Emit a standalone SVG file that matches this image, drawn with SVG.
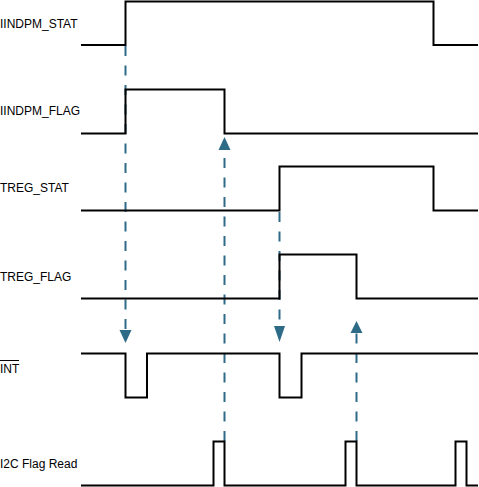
<svg xmlns="http://www.w3.org/2000/svg" width="479" height="487" viewBox="0 0 479 487">
<style>
.sig{fill:none;stroke:#000;stroke-width:2;stroke-linejoin:miter}
.dash{fill:none;stroke:#2e6b87;stroke-width:2;stroke-dasharray:10 9.5}
.lbl{font-family:"Liberation Sans",Arial,sans-serif;font-size:12px;fill:#000}
.ah{fill:#2e6b87}
</style>
<rect width="479" height="487" fill="#fff"/>
<g id="connectors">
<line class="dash" x1="125.5" y1="46" x2="125.5" y2="331"/>
<polygon class="ah" points="119.5,330 131.5,330 125.5,343"/>
<line class="dash" x1="224.5" y1="441" x2="224.5" y2="150"/>
<polygon class="ah" points="218.5,150 230.5,150 224.5,137"/>
<line class="dash" x1="279.5" y1="212" x2="279.5" y2="327"/>
<polygon class="ah" points="274,326 285,326 279.5,342"/>
<line class="dash" x1="356.5" y1="441" x2="356.5" y2="333"/>
<polygon class="ah" points="350.5,333 362.5,333 356.5,321"/>
</g>
<g id="iindpm_stat">
<text class="lbl" x="0" y="28">IINDPM_STAT</text>
<polyline class="sig" points="81,45 125.5,45 125.5,1.5 433.5,1.5 433.5,45 478,45"/>
</g>
<g id="iindpm_flag">
<text class="lbl" x="0" y="115">IINDPM_FLAG</text>
<polyline class="sig" points="81,133.5 125.5,133.5 125.5,89.5 224.5,89.5 224.5,133.5 478,133.5"/>
</g>
<g id="treg_stat">
<text class="lbl" x="0" y="192">TREG_STAT</text>
<polyline class="sig" points="81,210.5 279.5,210.5 279.5,166.5 433.5,166.5 433.5,210.5 478,210.5"/>
</g>
<g id="treg_flag">
<text class="lbl" x="0" y="280.5">TREG_FLAG</text>
<polyline class="sig" points="81,298.5 279.5,298.5 279.5,254.5 356.5,254.5 356.5,298.5 478,298.5"/>
</g>
<g id="int">
<text class="lbl" x="0" y="373">INT</text>
<line x1="0" y1="360.5" x2="19" y2="360.5" stroke="#000" stroke-width="1"/>
<polyline class="sig" points="81,353.5 125.5,353.5 125.5,397.5 147,397.5 147,353.5 279.5,353.5 279.5,397.5 301.5,397.5 301.5,353.5 478,353.5"/>
</g>
<g id="i2c_flag_read">
<text class="lbl" x="0" y="467.5">I2C Flag Read</text>
<polyline class="sig" points="81,485.5 213.5,485.5 213.5,441.5 224.5,441.5 224.5,485.5 345.5,485.5 345.5,441.5 356.5,441.5 356.5,485.5 455.5,485.5 455.5,441.5 466.5,441.5 466.5,485.5 478,485.5"/>
</g>
</svg>
